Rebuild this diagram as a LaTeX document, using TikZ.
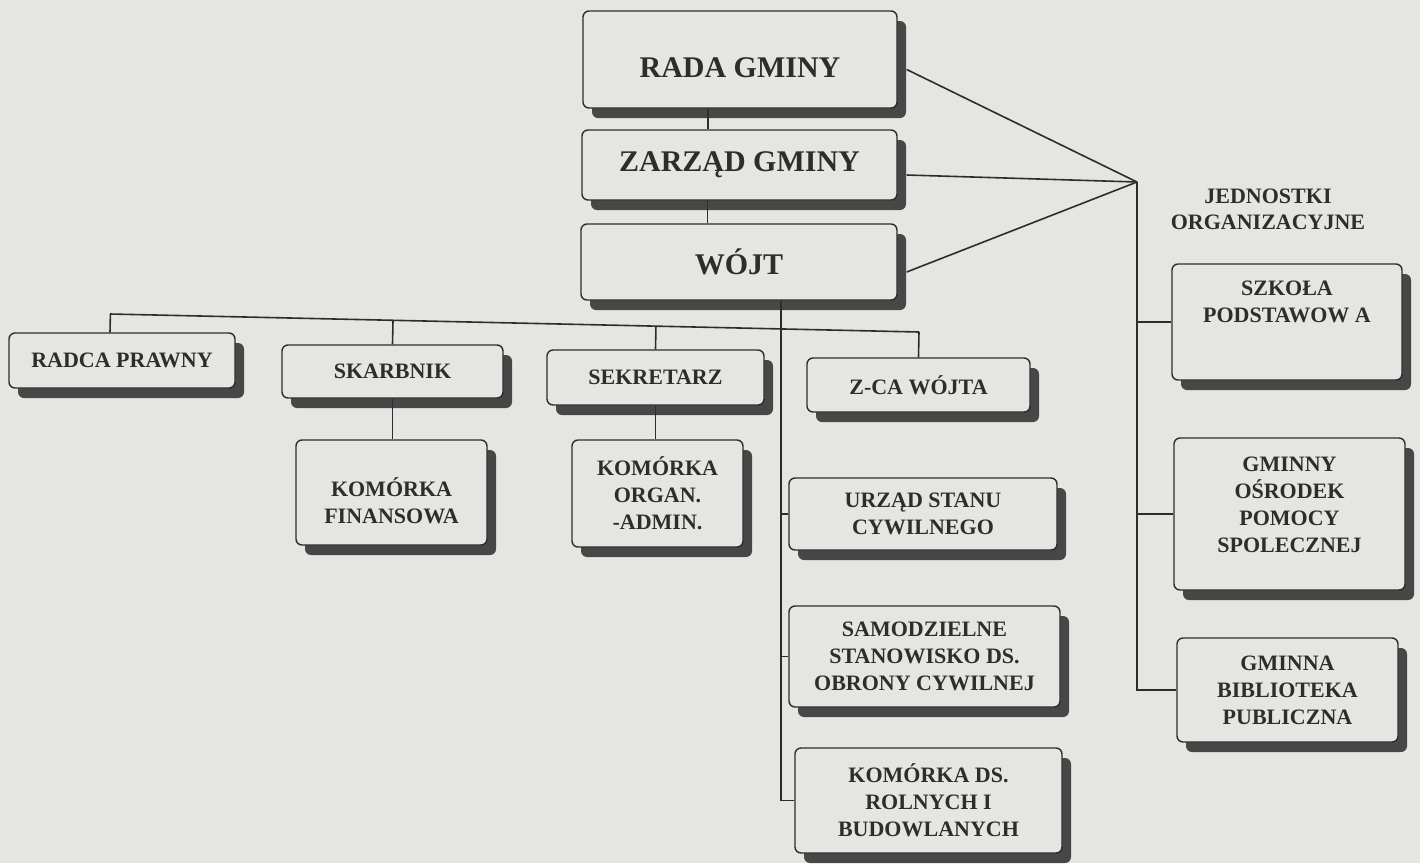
\documentclass[tikz,border=0pt]{standalone}
\usepackage{fontspec}
\setmainfont{Liberation Serif}
\usetikzlibrary{shadows,calc}
\definecolor{paper}{RGB}{229,229,226}
\definecolor{ink}{RGB}{45,45,45}
\tikzset{
	unit/.style={draw=ink,fill=paper,rounded corners=3pt,line width=0.7pt,align=center,text=ink,inner sep=2pt,
		font=\bfseries\fontsize{11}{13.5}\selectfont,
		drop shadow={shadow xshift=4.5pt,shadow yshift=-5pt,fill=black!72,opacity=1}},
	organ/.style={unit,font=\bfseries\fontsize{15}{18}\selectfont},
	link/.style={draw=ink,line width=0.8pt},
}
\begin{document}
\begin{tikzpicture}[x=0.5pt,y=-0.5pt]
			\useasboundingbox (0,0) rectangle (1420,863);
			\fill[paper] (0,0) rectangle (1420,863);
			% organy gminy
			\node[organ,minimum width=157pt,minimum height=48.5pt,text height=18pt] (rada) at (740,59.5) {RADA GMINY};
			\node[organ,minimum width=157.5pt,minimum height=35pt] (zarzad) at (739.5,165) {ZARZĄD GMINY};
			\node[organ,minimum width=158pt,minimum height=38pt] (wojt) at (739,262) {WÓJT};
			% stanowiska
			\node[unit,minimum width=113pt,minimum height=27.5pt] (radca) at (122,360.5) {RADCA PRAWNY};
			\node[unit,minimum width=110.5pt,minimum height=26.5pt] (skarbnik) at (392.5,371.5) {SKARBNIK};
			\node[unit,minimum width=108.5pt,minimum height=27.5pt] (sekretarz) at (655.5,377.5) {SEKRETARZ};
			\node[unit,minimum width=111.5pt,minimum height=27pt] (zca) at (918.5,385) {Z-CA WÓJTA};
			\node[unit,minimum width=95.5pt,minimum height=52.5pt,text height=31pt] (komfin) at (391.5,492.5) {KOMÓRKA\\FINANSOWA};
			\node[unit,minimum width=85.5pt,minimum height=53.5pt] (komorg) at (657.5,493.5) {KOMÓRKA\\ORGAN.\\-ADMIN.};
			\node[unit,minimum width=134pt,minimum height=36pt] (usc) at (923,514) {URZĄD STANU\\CYWILNEGO};
			\node[unit,minimum width=135.5pt,minimum height=50.5pt] (samodz) at (924.5,656.5) {SAMODZIELNE\\STANOWISKO DS.\\OBRONY CYWILNEJ};
			\node[unit,minimum width=133.5pt,minimum height=52.5pt] (komrol) at (928.5,800.5) {KOMÓRKA DS.\\ROLNYCH I\\BUDOWLANYCH};
			% jednostki organizacyjne
			\node[font=\bfseries\fontsize{11}{13}\selectfont,text=ink,align=center] (jedntxt) at (1268,209) {JEDNOSTKI\\ORGANIZACYJNE};
			\node[unit,minimum width=115pt,minimum height=58pt,text depth=20pt] (szkola) at (1287,322) {SZKOŁA\\PODSTAWOW A};
			\node[unit,minimum width=115.5pt,minimum height=76pt,text depth=9pt] (gops) at (1289.5,514) {GMINNY\\OŚRODEK\\POMOCY\\SPOLECZNEJ};
			\node[unit,minimum width=110.5pt,minimum height=52pt] (biblio) at (1287.5,690) {GMINNA\\BIBLIOTEKA\\PUBLICZNA};
			% polaczenia
			\draw[link] ([xshift=-16pt]rada.south) -- ([xshift=-16pt]rada.south |- zarzad.north);
			\draw[link] ([xshift=-16pt]zarzad.south) -- ([xshift=-16pt]zarzad.south |- wojt.north);
			\coordinate (jedn) at (1137,182);
			\foreach \n in {rada,zarzad,wojt}
				\draw[link] ([shift={(4.5pt,-5pt)}]\n.east) -- (jedn);
			\draw[link] (jedn) |- (biblio.west);
			\foreach \n in {szkola,gops}
				\draw[link] (\n.west) -- (\n.west -| jedn);
			\coordinate (busL) at (110,314);
			\coordinate (busR) at (919,332);
			\draw[link] (busL) -- (busR);
			\draw[link] ([xshift=-6pt]radca.north) -- ($(busL)!([xshift=-6pt]radca.north)!(busR)$);
			\foreach \n in {skarbnik,sekretarz,zca}
				\draw[link] (\n.north) -- ($(busL)!(\n.north)!(busR)$);
			\draw[link] (skarbnik.south) -- (skarbnik.south |- komfin.north);
			\draw[link] (sekretarz.south) -- (sekretarz.south |- komorg.north);
			\coordinate (trunk) at ([xshift=21pt]wojt.south);
			\draw[link] (trunk) |- (komrol.west);
			\foreach \n in {usc,samodz}
				\draw[link] (\n.west) -- (\n.west -| trunk);
\end{tikzpicture}
\end{document}
